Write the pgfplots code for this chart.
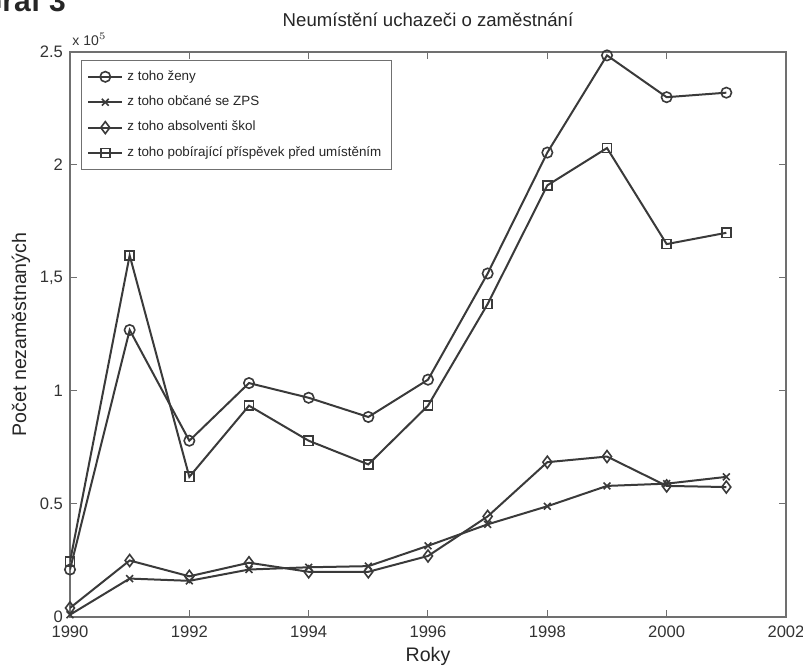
\documentclass[border=0pt]{standalone}
\usepackage{pgfplots}
\pgfplotsset{compat=1.18}
\usepackage{fontspec}
\setmainfont{Liberation Sans}
\definecolor{ln}{HTML}{3A3A3A}
\definecolor{fr}{HTML}{707070}
\begin{document}
\begin{tikzpicture}
\useasboundingbox (-35pt,-25pt) rectangle (366.5pt,308.5pt);
\node[overlay, anchor=base west, font=\bfseries\fontsize{15}{15}\selectfont, text=black!85] at (-49pt,302.5pt) {Graf 3};
\begin{axis}[
  name=ax,
  at={(0,0)}, anchor=south west,
  scale only axis, width=358pt, height=282.5pt,
  xmin=1990, xmax=2002, ymin=0, ymax=2.5,
  xtick={1990,1992,...,2002},
  ytick={0,0.5,1,1.5,2,2.5},
  yticklabels={0,0.5,1,{1,5},2,2.5},
  xticklabel style={/pgf/number format/1000 sep={}},
  /pgf/number format/assume math mode=true,
  tick align=inside, major tick length=3.5pt,
  tick pos=both,
  tick style={fr, line width=0.5pt},
  axis line style={fr, line width=0.7pt},
  ticklabel style={font=\fontsize{8.3}{10}\selectfont, text=black!80},
  xticklabel style={yshift=-1pt},
  title={Neumístění uchazeči o zaměstnání},
  title style={font=\fontsize{9.3}{11}\selectfont, text=black!85, yshift=3pt},
  xlabel={Roky},
  ylabel={Počet nezaměstnaných},
  xlabel style={font=\fontsize{9.8}{11}\selectfont, text=black!85, yshift=2pt},
  ylabel style={font=\fontsize{9.8}{11}\selectfont, text=black!85, yshift=-2pt},
  legend cell align=left,
  legend style={at={(0.015,0.986)}, anchor=north west, draw=fr, line width=0.5pt,
    font=\fontsize{6.7}{8}\selectfont, text=black!85,
    row sep=2.3pt, inner xsep=3pt, inner ysep=3pt},
  legend image code/.code={
    \draw[mark repeat=2,mark phase=2] plot coordinates {(0cm,0cm) (0.3cm,0cm) (0.6cm,0cm)};},
  every axis plot/.append style={ln, line width=1pt, mark options={solid, line width=0.8pt, fill=none}},
]
\addplot[mark=o, mark size=2.6pt] coordinates {
(1990,0.21) (1991,1.27) (1992,0.78) (1993,1.035) (1994,0.97) (1995,0.885)
(1996,1.05) (1997,1.52) (1998,2.055) (1999,2.485) (2000,2.30) (2001,2.32)};
\addlegendentry{z toho ženy}
\addplot[mark=x, mark size=2.4pt] coordinates {
(1990,0.01) (1991,0.17) (1992,0.16) (1993,0.21) (1994,0.22) (1995,0.225)
(1996,0.315) (1997,0.41) (1998,0.49) (1999,0.58) (2000,0.59) (2001,0.62)};
\addlegendentry{z toho občané se ZPS}
\addplot[mark=diamond, mark size=3pt] coordinates {
(1990,0.04) (1991,0.25) (1992,0.18) (1993,0.24) (1994,0.20) (1995,0.20)
(1996,0.27) (1997,0.445) (1998,0.685) (1999,0.71) (2000,0.58) (2001,0.575)};
\addlegendentry{z toho absolventi škol}
\addplot[mark=square, mark size=2.3pt] coordinates {
(1990,0.245) (1991,1.60) (1992,0.62) (1993,0.935) (1994,0.78) (1995,0.675)
(1996,0.935) (1997,1.385) (1998,1.91) (1999,2.075) (2000,1.65) (2001,1.70)};
\addlegendentry{z toho pobírající příspěvek před umístěním}
\end{axis}
\node[anchor=south west, font=\fontsize{7}{8}\selectfont, text=black!80, inner sep=0pt]
  at (ax.north west) [yshift=3pt, xshift=1pt] {x 10$^{5}$};
\end{tikzpicture}
\end{document}
